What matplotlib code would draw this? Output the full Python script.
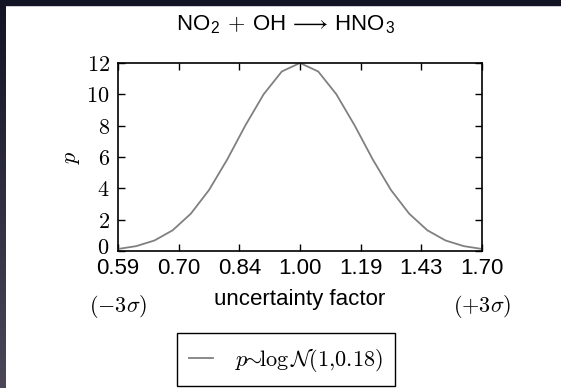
import numpy as np
import matplotlib
matplotlib.use("Agg")
from matplotlib import pyplot as plt
from matplotlib import transforms
from matplotlib.patches import Rectangle

plt.rcParams["font.family"] = ["Liberation Sans", "DejaVu Sans"]
plt.rcParams["mathtext.fontset"] = "cm"

# 概率密度曲线（以 sigma 为单位的横坐标）
sigma_steps = [-3.0, -2.7, -2.4, -2.1, -1.8, -1.5, -1.2, -0.9, -0.6, -0.3, 0.0,
               0.3, 0.6, 0.9, 1.2, 1.5, 1.8, 2.1, 2.4, 2.7, 3.0]
density = [0.13, 0.31, 0.67, 1.32, 2.38, 3.89, 5.84, 8.02, 10.0, 11.46, 12.0,
           11.46, 10.0, 8.02, 5.84, 3.89, 2.38, 1.32, 0.67, 0.31, 0.13]

# 横轴刻度：不确定因子
factor_ticks = [-3, -2, -1, 0, 1, 2, 3]
factor_labels = ["0.59", "0.70", "0.84", "1.00", "1.19", "1.43", "1.70"]
p_ticks = [0, 2, 4, 6, 8, 10, 12]

title = (r"NO$_\mathregular{2}$$\,+\,$OH$\,\longrightarrow\,$"
         r"HNO$_\mathregular{3}$")
legend_label = r"$p\!\!\sim\!\!\mathrm{log}\,\mathcal{N}(1{,}0.18)$"

W, H = 561, 388
fig = plt.figure(figsize=(W / 100, H / 100), dpi=100, facecolor="white")

# 左侧和顶部的深色边框
edge = fig.add_axes([0, 0, 6 / W, 1])
top_col = np.array([0x13, 0x13, 0x26]) / 255.0
bot_col = np.array([0x4b, 0x47, 0x59]) / 255.0
t = np.linspace(0, 1, 200)[:, None, None]
edge.imshow(top_col + (bot_col - top_col) * t, aspect="auto", extent=(0, 1, 0, 1))
edge.axis("off")
fig.patches.append(Rectangle((0, 1 - 5 / H), 1, 5 / H, transform=fig.transFigure,
                             color=top_col, zorder=5))

ax = fig.add_axes([118 / W, 1 - 251 / H, 364 / W, 188 / H])
ax.plot(sigma_steps, density, color="#808080", lw=1.3, label=legend_label)
ax.set_xlim(-3, 3)
ax.set_ylim(0, 12)

ax.set_xticks(factor_ticks)
ax.set_xticklabels(factor_labels)
ax.set_yticks(p_ticks)
ax.set_yticklabels([f"${v}$" for v in p_ticks])
ax.tick_params(direction="in", top=True, right=True, length=5, width=1,
               labelsize=16)
ax.tick_params(axis="x", pad=5)
ax.tick_params(axis="y", pad=6)
for s in ax.spines.values():
    s.set_linewidth(1.2)

# 把纵轴的 "0" 稍微上移，避免压住横轴刻度
zero_lbl = ax.yaxis.get_major_ticks()[0].label1
zero_lbl.set_transform(zero_lbl.get_transform() +
                       transforms.ScaledTranslation(0, 5 / 100, fig.dpi_scale_trans))

ax.set_ylabel("$p$", fontsize=16, labelpad=3)

# 横轴标题与两端的 sigma 标记
tr = transforms.blended_transform_factory(ax.transData, fig.transFigure)
ax.text(0, 1 - 305.5 / H, "uncertainty factor", transform=tr, ha="center",
        va="baseline", fontsize=16)
ax.text(-3, 1 - 311.5 / H, r"$(-3\sigma)$", transform=tr, ha="center",
        va="baseline", fontsize=16)
ax.text(3, 1 - 311.5 / H, r"$(+3\sigma)$", transform=tr, ha="center",
        va="baseline", fontsize=16)

fig.text(286 / W, 1 - 30 / H, title, ha="center", va="baseline", fontsize=16)

leg = ax.legend(loc="center", bbox_to_anchor=(286 / W, 1 - 359.5 / H),
                bbox_transform=fig.transFigure, fontsize=16, fancybox=False,
                borderpad=0.55, handlelength=1.1, handletextpad=1.0,
                framealpha=1)
leg.get_frame().set_edgecolor("black")
leg.get_frame().set_linewidth(1.0)

fig.savefig("out.png", dpi=100)
